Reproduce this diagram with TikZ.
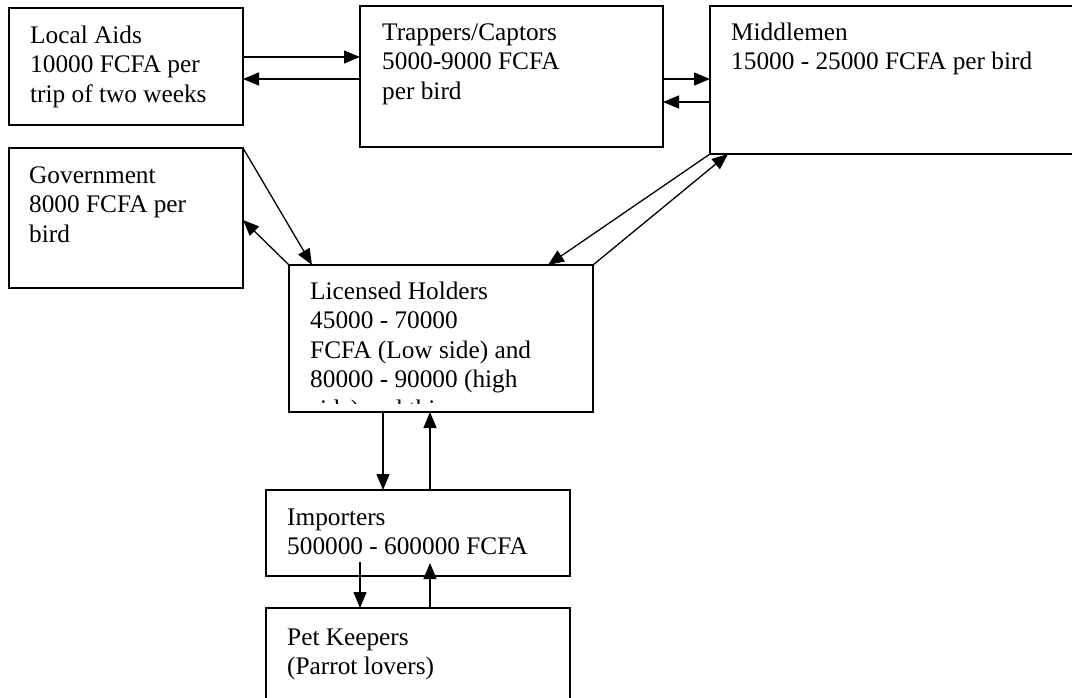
\documentclass[tikz,border=0pt]{standalone}
\usepackage{fontspec}
\setmainfont{Liberation Serif}
\usetikzlibrary{arrows.meta}
\begin{document}
\begin{tikzpicture}[x=1pt,y=-1pt,
 box/.style={draw, line width=1.4pt, anchor=north west, inner sep=0pt, outer sep=0pt},
 txt/.style={anchor=north west, align=left, inner sep=0pt, font=\fontsize{25.3}{29.5}\selectfont},
 arr/.style={line width=1.3pt, -{Triangle[length=16pt,width=13pt]}},
 ]
\useasboundingbox (0,0) rectangle (1072,698);
\clip (0,0) rectangle (1072,698);
% boxes
\node[box, minimum width=234pt, minimum height=117pt] (la) at (9,8) {};
\node[box, minimum width=303pt, minimum height=141pt] (tc) at (360,6) {};
\node[box, minimum width=380pt, minimum height=148pt] (mm) at (710,6) {};
\node[box, minimum width=234pt, minimum height=140pt] (gv) at (9,148) {};
\node[box, minimum width=304pt, minimum height=147pt] (lh) at (289,265) {};
\node[box, minimum width=304pt, minimum height=86pt] (im) at (266,490) {};
\node[box, minimum width=304pt, minimum height=130pt] (pk) at (266,608) {};
% texts (first-line baseline = y + 20.65)
\node[txt] (lat) at (30,22.4) {\strut Local Aids\\10000 FCFA per\\trip of two weeks};
\node[txt] (tct) at (382,19.4) {\strut Trappers/Captors\\5000-9000 FCFA\\per bird};
\node[txt] (mmt) at (731,19.4) {\strut Middlemen\\15000 - 25000 FCFA per bird};
\node[txt] (gvt) at (29,162.4) {\strut Government\\8000 FCFA per\\bird};
\begin{scope}
\clip (lh.north west) rectangle ([yshift=9pt]lh.south east);
\node[txt] (lht) at (310,278.4) {\strut Licensed Holders\\45000 - 70000\\FCFA (Low side) and\\80000 - 90000 (high\\side) and this};
\end{scope}
\node[txt] (imt) at (287,504.4) {\strut Importers\\500000 - 600000 FCFA};
\node[txt] (pkt) at (287,624.4) {\strut Pet Keepers\\(Parrot lovers)};
% connectors
\draw[arr] ([yshift=-49pt]la.north east) -- ([yshift=-51pt]tc.north west);
\draw[arr] ([yshift=-73pt]tc.north west) -- ([yshift=-71pt]la.north east);
\draw[arr] ([yshift=-73pt]tc.north east) -- ([yshift=-73pt]mm.north west);
\draw[arr] ([yshift=-96pt]mm.north west) -- ([yshift=-96pt]tc.north east);
\draw[arr] (gv.north east) -- ([xshift=23pt]lh.north west);
\draw[arr] (lh.north west) -- ([yshift=-72pt]gv.north east);
\draw[arr] (mm.south west) -- ([xshift=-45pt]lh.north east);
\draw[arr] (lh.north east) -- ([xshift=18pt]mm.south west);
\draw[arr] ([xshift=94pt]lh.south west) -- ([xshift=117pt]im.north west);
\draw[arr] ([xshift=164pt]im.north west) -- ([xshift=141pt]lh.south west);
\draw[arr] ([xshift=94pt,yshift=14pt]im.south west) -- ([xshift=94pt]pk.north west);
\draw[arr] ([xshift=164pt]pk.north west) -- ([xshift=164pt,yshift=13pt]im.south west);
\end{tikzpicture}
\end{document}
